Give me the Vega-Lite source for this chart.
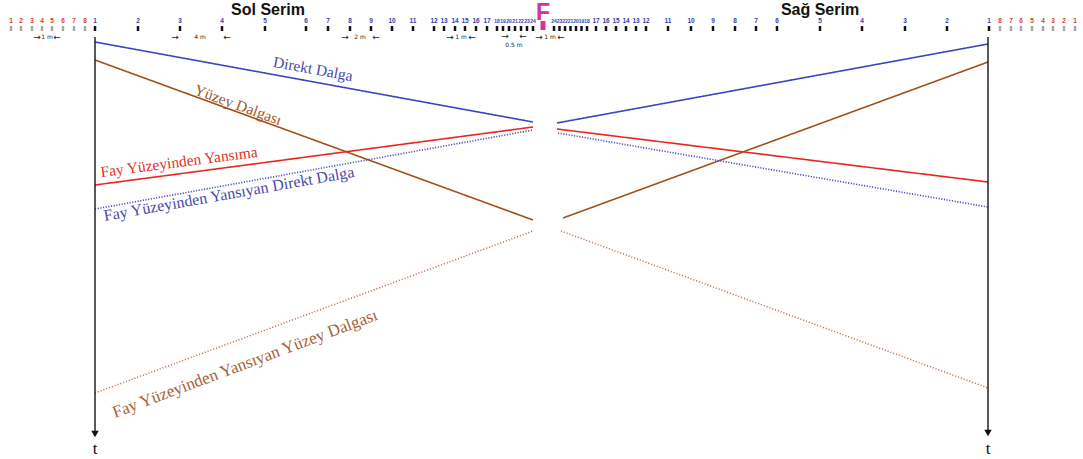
{
  "$schema": "https://vega.github.io/schema/vega-lite/v6.json",
  "width": 1083,
  "height": 459,
  "autosize": {"type": "fit", "contains": "padding"},
  "padding": 0,
  "background": "white",
  "config": {"view": {"stroke": null}},
  "datasets": {
    "dalgalar": [
      {"dalga": "Direkt Dalga", "taraf": "sol", "x": 95, "y": 42},
      {"dalga": "Direkt Dalga", "taraf": "sol", "x": 533, "y": 122},
      {"dalga": "Direkt Dalga", "taraf": "sag", "x": 557, "y": 123},
      {"dalga": "Direkt Dalga", "taraf": "sag", "x": 988, "y": 44},
      {"dalga": "Yüzey Dalgası", "taraf": "sol", "x": 95, "y": 60},
      {"dalga": "Yüzey Dalgası", "taraf": "sol", "x": 533, "y": 220},
      {"dalga": "Yüzey Dalgası", "taraf": "sag", "x": 563, "y": 218},
      {"dalga": "Yüzey Dalgası", "taraf": "sag", "x": 988, "y": 62},
      {"dalga": "Fay Yüzeyinden Yansıma", "taraf": "sol", "x": 95, "y": 185},
      {"dalga": "Fay Yüzeyinden Yansıma", "taraf": "sol", "x": 533, "y": 127},
      {"dalga": "Fay Yüzeyinden Yansıma", "taraf": "sag", "x": 557, "y": 129},
      {"dalga": "Fay Yüzeyinden Yansıma", "taraf": "sag", "x": 988, "y": 182},
      {"dalga": "Fay Yüzeyinden Yansıyan Direkt Dalga", "taraf": "sol", "x": 95, "y": 209},
      {"dalga": "Fay Yüzeyinden Yansıyan Direkt Dalga", "taraf": "sol", "x": 533, "y": 130},
      {"dalga": "Fay Yüzeyinden Yansıyan Direkt Dalga", "taraf": "sag", "x": 558, "y": 133},
      {"dalga": "Fay Yüzeyinden Yansıyan Direkt Dalga", "taraf": "sag", "x": 988, "y": 207},
      {"dalga": "Fay Yüzeyinden Yansıyan Yüzey Dalgası", "taraf": "sol", "x": 95, "y": 393},
      {"dalga": "Fay Yüzeyinden Yansıyan Yüzey Dalgası", "taraf": "sol", "x": 533, "y": 231},
      {"dalga": "Fay Yüzeyinden Yansıyan Yüzey Dalgası", "taraf": "sag", "x": 561, "y": 231},
      {"dalga": "Fay Yüzeyinden Yansıyan Yüzey Dalgası", "taraf": "sag", "x": 988, "y": 388}
    ],
    "jeofonlar": [
      {"taraf": "sol", "tur": "dis", "no": "1", "x": 11, "aralik": 1},
      {"taraf": "sol", "tur": "dis", "no": "2", "x": 21, "aralik": 1},
      {"taraf": "sol", "tur": "dis", "no": "3", "x": 32, "aralik": 1},
      {"taraf": "sol", "tur": "dis", "no": "4", "x": 42, "aralik": 1},
      {"taraf": "sol", "tur": "dis", "no": "5", "x": 52, "aralik": 1},
      {"taraf": "sol", "tur": "dis", "no": "6", "x": 63, "aralik": 1},
      {"taraf": "sol", "tur": "dis", "no": "7", "x": 74, "aralik": 1},
      {"taraf": "sol", "tur": "dis", "no": "8", "x": 85, "aralik": 1},
      {"taraf": "sol", "tur": "ic", "no": "1", "x": 95, "aralik": 4},
      {"taraf": "sol", "tur": "ic", "no": "2", "x": 138, "aralik": 4},
      {"taraf": "sol", "tur": "ic", "no": "3", "x": 180, "aralik": 4},
      {"taraf": "sol", "tur": "ic", "no": "4", "x": 222, "aralik": 4},
      {"taraf": "sol", "tur": "ic", "no": "5", "x": 265, "aralik": 4},
      {"taraf": "sol", "tur": "ic", "no": "6", "x": 306, "aralik": 2},
      {"taraf": "sol", "tur": "ic", "no": "7", "x": 328, "aralik": 2},
      {"taraf": "sol", "tur": "ic", "no": "8", "x": 350, "aralik": 2},
      {"taraf": "sol", "tur": "ic", "no": "9", "x": 371, "aralik": 2},
      {"taraf": "sol", "tur": "ic", "no": "10", "x": 392, "aralik": 2},
      {"taraf": "sol", "tur": "ic", "no": "11", "x": 413, "aralik": 2},
      {"taraf": "sol", "tur": "ic", "no": "12", "x": 434, "aralik": 1},
      {"taraf": "sol", "tur": "ic", "no": "13", "x": 444, "aralik": 1},
      {"taraf": "sol", "tur": "ic", "no": "14", "x": 455, "aralik": 1},
      {"taraf": "sol", "tur": "ic", "no": "15", "x": 465, "aralik": 1},
      {"taraf": "sol", "tur": "ic", "no": "16", "x": 476, "aralik": 1},
      {"taraf": "sol", "tur": "ic", "no": "17", "x": 487, "aralik": 1},
      {"taraf": "sol", "tur": "ic", "no": "18", "x": 497, "aralik": 0.5},
      {"taraf": "sol", "tur": "ic", "no": "19", "x": 503, "aralik": 0.5},
      {"taraf": "sol", "tur": "ic", "no": "20", "x": 509, "aralik": 0.5},
      {"taraf": "sol", "tur": "ic", "no": "21", "x": 515, "aralik": 0.5},
      {"taraf": "sol", "tur": "ic", "no": "22", "x": 521, "aralik": 0.5},
      {"taraf": "sol", "tur": "ic", "no": "23", "x": 527, "aralik": 0.5},
      {"taraf": "sol", "tur": "ic", "no": "24", "x": 533, "aralik": 0.5},
      {"taraf": "sag", "tur": "ic", "no": "24", "x": 554, "aralik": 0.5},
      {"taraf": "sag", "tur": "ic", "no": "23", "x": 559.5, "aralik": 0.5},
      {"taraf": "sag", "tur": "ic", "no": "22", "x": 565, "aralik": 0.5},
      {"taraf": "sag", "tur": "ic", "no": "21", "x": 570.5, "aralik": 0.5},
      {"taraf": "sag", "tur": "ic", "no": "20", "x": 576, "aralik": 0.5},
      {"taraf": "sag", "tur": "ic", "no": "19", "x": 581.5, "aralik": 0.5},
      {"taraf": "sag", "tur": "ic", "no": "18", "x": 587, "aralik": 0.5},
      {"taraf": "sag", "tur": "ic", "no": "17", "x": 596, "aralik": 1},
      {"taraf": "sag", "tur": "ic", "no": "16", "x": 606, "aralik": 1},
      {"taraf": "sag", "tur": "ic", "no": "15", "x": 616, "aralik": 1},
      {"taraf": "sag", "tur": "ic", "no": "14", "x": 626, "aralik": 1},
      {"taraf": "sag", "tur": "ic", "no": "13", "x": 636, "aralik": 1},
      {"taraf": "sag", "tur": "ic", "no": "12", "x": 646, "aralik": 1},
      {"taraf": "sag", "tur": "ic", "no": "11", "x": 668, "aralik": 2},
      {"taraf": "sag", "tur": "ic", "no": "10", "x": 691, "aralik": 2},
      {"taraf": "sag", "tur": "ic", "no": "9", "x": 713, "aralik": 2},
      {"taraf": "sag", "tur": "ic", "no": "8", "x": 735, "aralik": 2},
      {"taraf": "sag", "tur": "ic", "no": "7", "x": 756, "aralik": 2},
      {"taraf": "sag", "tur": "ic", "no": "6", "x": 777, "aralik": 2},
      {"taraf": "sag", "tur": "ic", "no": "5", "x": 820, "aralik": 4},
      {"taraf": "sag", "tur": "ic", "no": "4", "x": 862, "aralik": 4},
      {"taraf": "sag", "tur": "ic", "no": "3", "x": 905, "aralik": 4},
      {"taraf": "sag", "tur": "ic", "no": "2", "x": 947, "aralik": 4},
      {"taraf": "sag", "tur": "ic", "no": "1", "x": 989, "aralik": 4},
      {"taraf": "sag", "tur": "dis", "no": "8", "x": 1000, "aralik": 1},
      {"taraf": "sag", "tur": "dis", "no": "7", "x": 1011, "aralik": 1},
      {"taraf": "sag", "tur": "dis", "no": "6", "x": 1021, "aralik": 1},
      {"taraf": "sag", "tur": "dis", "no": "5", "x": 1032, "aralik": 1},
      {"taraf": "sag", "tur": "dis", "no": "4", "x": 1043, "aralik": 1},
      {"taraf": "sag", "tur": "dis", "no": "3", "x": 1053, "aralik": 1},
      {"taraf": "sag", "tur": "dis", "no": "2", "x": 1064, "aralik": 1},
      {"taraf": "sag", "tur": "dis", "no": "1", "x": 1075, "aralik": 1}
    ],
    "olcek": [
      {"metin": "→", "x": 37, "y": 37},
      {"metin": "1 m", "x": 47, "y": 37},
      {"metin": "←", "x": 57, "y": 37},
      {"metin": "→", "x": 175, "y": 37},
      {"metin": "4 m", "x": 200, "y": 37},
      {"metin": "←", "x": 227, "y": 37},
      {"metin": "→", "x": 345, "y": 37},
      {"metin": "2 m", "x": 360, "y": 37},
      {"metin": "←", "x": 376, "y": 37},
      {"metin": "→", "x": 450, "y": 37},
      {"metin": "1 m", "x": 461, "y": 37},
      {"metin": "←", "x": 472, "y": 37},
      {"metin": "→", "x": 505, "y": 36},
      {"metin": "←", "x": 523, "y": 36},
      {"metin": "0.5 m", "x": 514, "y": 45},
      {"metin": "→", "x": 539, "y": 37},
      {"metin": "1 m", "x": 550, "y": 37},
      {"metin": "←", "x": 561, "y": 37}
    ],
    "zaman": [
      {"taraf": "sol", "x": 95, "ust": 37, "alt": 434},
      {"taraf": "sag", "x": 988, "ust": 37, "alt": 433}
    ]
  },
  "encoding": {
    "x": {"type": "quantitative", "scale": {"domain": [0, 1083], "nice": false, "zero": false}, "axis": null},
    "y": {"type": "quantitative", "scale": {"domain": [0, 459], "nice": false, "zero": false, "reverse": true}, "axis": null}
  },
  "layer": [
    {
      "data": {"name": "dalgalar"},
      "mark": {"type": "line", "strokeCap": "butt"},
      "encoding": {
        "x": {"field": "x", "type": "quantitative"},
        "y": {"field": "y", "type": "quantitative"},
        "detail": {"field": "taraf"},
        "color": {
          "field": "dalga", "type": "nominal", "legend": null,
          "scale": {
            "domain": ["Direkt Dalga", "Yüzey Dalgası", "Fay Yüzeyinden Yansıma", "Fay Yüzeyinden Yansıyan Direkt Dalga", "Fay Yüzeyinden Yansıyan Yüzey Dalgası"],
            "range": ["#3c44c0", "#a44e1c", "#e8281e", "#4a52c4", "#b86a44"]
          }
        },
        "strokeDash": {
          "field": "dalga", "type": "nominal", "legend": null,
          "scale": {
            "domain": ["Direkt Dalga", "Yüzey Dalgası", "Fay Yüzeyinden Yansıma", "Fay Yüzeyinden Yansıyan Direkt Dalga", "Fay Yüzeyinden Yansıyan Yüzey Dalgası"],
            "range": [[1, 0], [1, 0], [1, 0], [1.2, 1.5], [1, 2]]
          }
        },
        "strokeWidth": {
          "field": "dalga", "type": "nominal", "legend": null,
          "scale": {
            "domain": ["Direkt Dalga", "Yüzey Dalgası", "Fay Yüzeyinden Yansıma", "Fay Yüzeyinden Yansıyan Direkt Dalga", "Fay Yüzeyinden Yansıyan Yüzey Dalgası"],
            "range": [1.6, 1.6, 1.6, 1.4, 1.1]
          }
        }
      }
    },
    {
      "data": {"name": "zaman"},
      "mark": {"type": "rule", "color": "#222222", "strokeWidth": 1.5},
      "encoding": {
        "x": {"field": "x", "type": "quantitative"},
        "y": {"field": "ust", "type": "quantitative"},
        "y2": {"field": "alt"}
      }
    },
    {
      "data": {"name": "zaman"},
      "mark": {"type": "point", "shape": "triangle-down", "filled": true, "color": "#111111", "size": 55, "opacity": 1},
      "encoding": {
        "x": {"field": "x", "type": "quantitative"},
        "y": {"field": "alt", "type": "quantitative"}
      }
    },
    {
      "data": {"name": "zaman"},
      "mark": {"type": "text", "text": "t", "font": "Liberation Serif", "fontSize": 17, "color": "#111111", "baseline": "middle"},
      "encoding": {
        "x": {"field": "x", "type": "quantitative"},
        "y": {"datum": 449}
      }
    },
    {
      "data": {"name": "jeofonlar"},
      "mark": {"type": "rule", "strokeWidth": 2.5},
      "encoding": {
        "x": {"field": "x", "type": "quantitative"},
        "y": {"datum": 26},
        "y2": {"datum": 31},
        "color": {"condition": {"test": "datum.tur == 'dis'", "value": "#a8a8a8"}, "value": "#111111"}
      }
    },
    {
      "data": {"name": "jeofonlar"},
      "mark": {"type": "text", "font": "Liberation Sans", "fontWeight": "bold", "baseline": "middle"},
      "encoding": {
        "x": {"field": "x", "type": "quantitative"},
        "y": {"datum": 21},
        "text": {"field": "no"},
        "size": {"condition": {"test": "datum.aralik == 0.5", "value": 5}, "value": 6.5},
        "color": {"condition": {"test": "datum.tur == 'dis'", "value": "#e03a30"}, "value": "#3a40a8"}
      }
    },
    {
      "data": {"name": "olcek"},
      "mark": {"type": "text", "font": "DejaVu Sans", "fill": "#222222", "baseline": "middle"},
      "encoding": {
        "x": {"field": "x", "type": "quantitative"},
        "y": {"field": "y", "type": "quantitative"},
        "text": {"field": "metin"},
        "size": {"condition": {"test": "length(datum.metin) == 1", "value": 9}, "value": 6}
      }
    },
    {
      "data": {"values": [{"baslik": "Sol Serim", "x": 268}, {"baslik": "Sağ Serim", "x": 820}]},
      "mark": {"type": "text", "font": "Liberation Sans", "fontWeight": "bold", "fontSize": 16, "color": "#111111", "baseline": "middle"},
      "encoding": {
        "x": {"field": "x", "type": "quantitative"},
        "y": {"datum": 10},
        "text": {"field": "baslik"}
      }
    },
    {
      "data": {"values": [{"fay": "F", "x": 543}]},
      "mark": {"type": "text", "font": "Liberation Sans", "fontWeight": "bold", "fontSize": 23, "color": "#d4329c", "baseline": "alphabetic"},
      "encoding": {
        "x": {"field": "x", "type": "quantitative"},
        "y": {"datum": 19.5},
        "text": {"field": "fay"}
      }
    },
    {
      "data": {"values": [{"fay": "F", "x": 543}]},
      "mark": {"type": "rule", "color": "#d4329c", "strokeWidth": 5},
      "encoding": {
        "x": {"field": "x", "type": "quantitative"},
        "y": {"datum": 21},
        "y2": {"datum": 30}
      }
    },
    {
      "data": {"values": [{"etiket": "Direkt Dalga", "x": 313, "y": 69}]},
      "mark": {"type": "text", "font": "Liberation Serif", "fontSize": 15.5, "color": "#4a4aa8", "angle": 10.3, "baseline": "middle"},
      "encoding": {"x": {"field": "x", "type": "quantitative"}, "y": {"field": "y", "type": "quantitative"}, "text": {"field": "etiket"}}
    },
    {
      "data": {"values": [{"etiket": "Yüzey Dalgası", "x": 238, "y": 105}]},
      "mark": {"type": "text", "font": "Liberation Serif", "fontSize": 15.5, "color": "#a4582a", "angle": 20, "baseline": "middle"},
      "encoding": {"x": {"field": "x", "type": "quantitative"}, "y": {"field": "y", "type": "quantitative"}, "text": {"field": "etiket"}}
    },
    {
      "data": {"values": [{"etiket": "Fay Yüzeyinden Yansıma", "x": 179, "y": 162}]},
      "mark": {"type": "text", "font": "Liberation Serif", "fontSize": 15.5, "color": "#e0301e", "angle": -7.4, "baseline": "middle"},
      "encoding": {"x": {"field": "x", "type": "quantitative"}, "y": {"field": "y", "type": "quantitative"}, "text": {"field": "etiket"}}
    },
    {
      "data": {"values": [{"etiket": "Fay Yüzeyinden Yansıyan Direkt Dalga", "x": 229, "y": 194}]},
      "mark": {"type": "text", "font": "Liberation Serif", "fontSize": 16, "color": "#4a4aa8", "angle": -10, "baseline": "middle"},
      "encoding": {"x": {"field": "x", "type": "quantitative"}, "y": {"field": "y", "type": "quantitative"}, "text": {"field": "etiket"}}
    },
    {
      "data": {"values": [{"etiket": "Fay Yüzeyinden Yansıyan Yüzey Dalgası", "x": 245, "y": 364}]},
      "mark": {"type": "text", "font": "Liberation Serif", "fontSize": 17, "color": "#a86038", "angle": -20.5, "baseline": "middle"},
      "encoding": {"x": {"field": "x", "type": "quantitative"}, "y": {"field": "y", "type": "quantitative"}, "text": {"field": "etiket"}}
    }
  ]
}
